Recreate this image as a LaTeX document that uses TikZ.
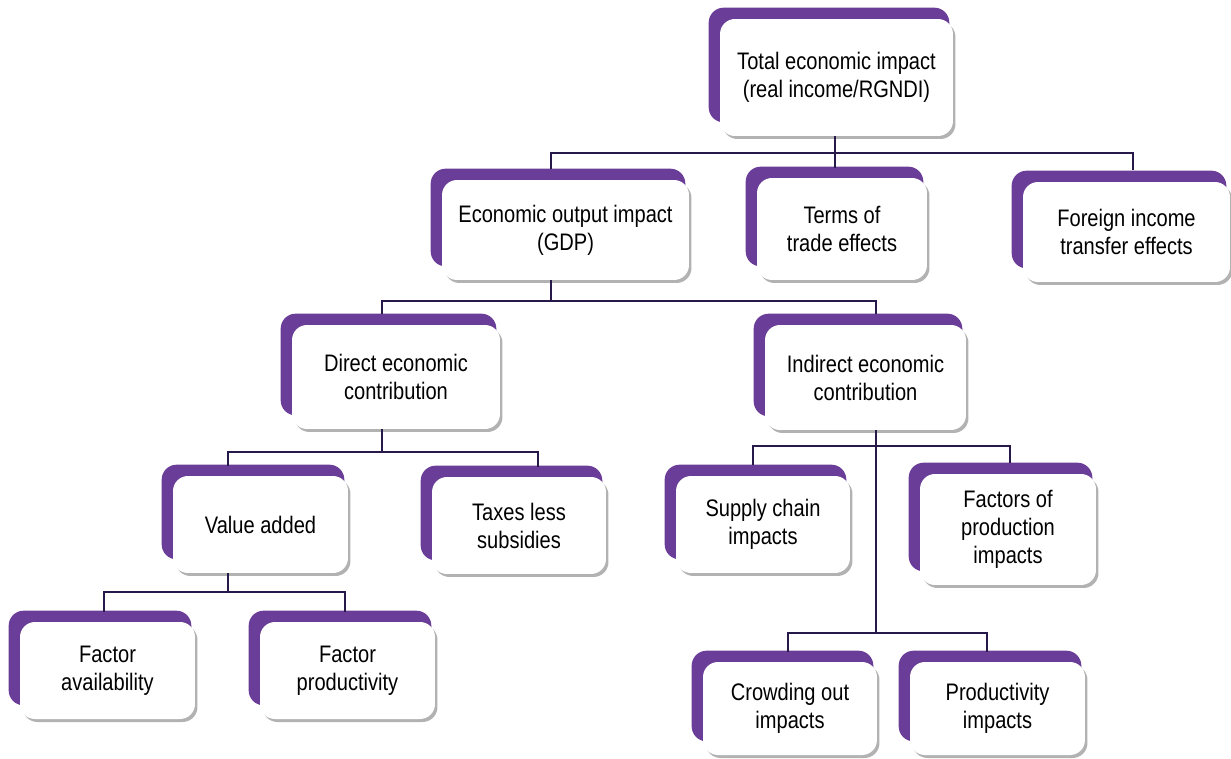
\documentclass[tikz,border=0pt]{standalone}
\usepackage{fontspec}
\setmainfont[FakeStretch=0.84]{Liberation Sans}
\usetikzlibrary{calc,shadows,backgrounds}
\definecolor{boxpurple}{RGB}{106,62,152}
\definecolor{linknavy}{RGB}{40,25,75}
\tikzset{
  ebox/.style={draw=none,fill=white,rounded corners=0.3cm,align=center,inner sep=0pt,
    font=\fontsize{13.6}{15.9}\selectfont,
    drop shadow={shadow xshift=0.05cm,shadow yshift=-0.06cm,fill=black,opacity=0.3}},
  back/.style={fill=boxpurple,rounded corners=0.3cm},
  link/.style={draw=linknavy,line width=1pt}
}
\begin{document}
\begin{tikzpicture}[x=0.02cm,y=-0.02cm]
        \useasboundingbox (0,0) rectangle (1231,758);

        \node[ebox,minimum width=4.66cm,minimum height=2.34cm](top)at(836.5,77.5){Total economic impact\\(real income/RGNDI)};
        \node[ebox,minimum width=4.94cm,minimum height=2.0cm](gdp)at(565.5,230){Economic output impact\\(GDP)};
        \node[ebox,minimum width=3.4cm,minimum height=2.04cm](tot)at(842,229){Terms of\\trade effects};
        \node[ebox,minimum width=4.14cm,minimum height=2.0cm](foreign)at(1126.5,232){Foreign income\\transfer effects};
        \node[ebox,minimum width=4.16cm,minimum height=2.08cm](direct)at(396,377){Direct economic\\contribution};
        \node[ebox,minimum width=4.02cm,minimum height=2.1cm](indirect)at(865.5,377.5){Indirect economic\\contribution};
        \node[ebox,minimum width=3.5cm,minimum height=1.94cm](value)at(260.5,524.5){Value added};
        \node[ebox,minimum width=3.48cm,minimum height=1.94cm](taxes)at(519,525.5){Taxes less\\subsidies};
        \node[ebox,minimum width=3.48cm,minimum height=1.94cm](supply)at(763,524.5){Supply chain\\impacts};
        \node[ebox,minimum width=3.52cm,minimum height=2.22cm](fop)at(1008,529.5){Factors of\\production\\impacts};
        \node[ebox,minimum width=3.5cm,minimum height=1.94cm](favail)at(107.5,670.5){Factor\\availability};
        \node[ebox,minimum width=3.5cm,minimum height=1.94cm](fprod)at(347.5,670.5){Factor\\productivity};
        \node[ebox,minimum width=3.48cm,minimum height=1.86cm](crowd)at(790,708.5){Crowding out\\impacts};
        \node[ebox,minimum width=3.5cm,minimum height=1.86cm](prodimp)at(997.5,708.5){Productivity\\impacts};

        \begin{scope}[on background layer]
        \foreach \n in {top,gdp,tot,foreign,direct,indirect,value,taxes,supply,fop,favail,fprod,crowd,prodimp}
            \fill[back]($(\n.north west)+(-11,-11)$)rectangle($(\n.south east)+(-4,-14)$);
        \end{scope}

        \draw[link]($(top.south)+(-1.5,0)$)--++(0,17)coordinate(b1);
        \draw[link]($(gdp.north)+(-14.5,-11)$)|-(b1)-|($(foreign.north)+(6.5,-12)$);
        \draw[link]($(tot.north)+(-7,-10)$)--(b1);

        \draw[link]($(gdp.south)+(-14.5,0)$)--++(0,21)coordinate(b2);
        \draw[link]($(direct.north)+(-14,-11)$)|-(b2)-|($(indirect.north)+(10.5,-11)$);

        \draw[link]($(direct.south)+(-14,0)$)--++(0,23)coordinate(b3);
        \draw[link]($(value.north)+(-32.5,-10)$)|-(b3)-|($(taxes.north)+(19,-10)$);

        \draw[link]($(indirect.south)+(10.5,0)$)--++(0,16)coordinate(b4)--++(0,187)coordinate(b5);
        \draw[link]($(supply.north)+(-10,-11)$)|-(b4)-|($(fop.north)+(2,-11)$);
        \draw[link]($(crowd.north)+(-2,-10)$)|-(b5)-|($(prodimp.north)+(-10.5,-10)$);

        \draw[link]($(value.south)+(-32.5,0)$)--++(0,19)coordinate(b6);
        \draw[link]($(favail.north)+(-3.5,-10)$)|-(b6)-|($(fprod.north)+(-2.5,-10)$);
    \end{tikzpicture}
\end{document}
